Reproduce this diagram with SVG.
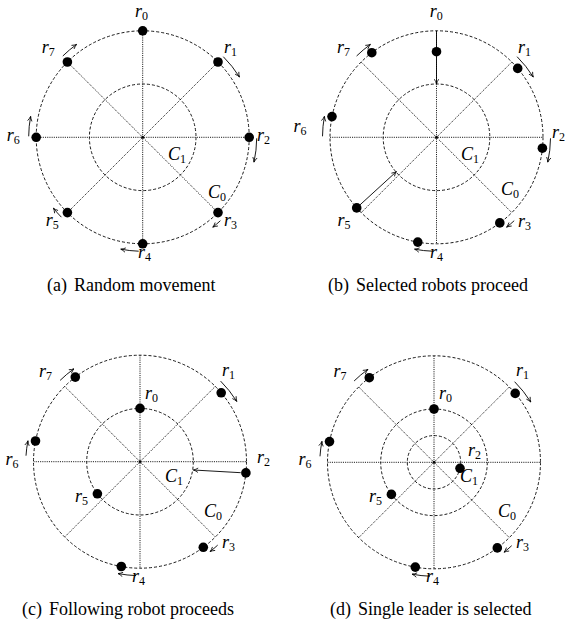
<svg xmlns="http://www.w3.org/2000/svg" width="567" height="637" viewBox="0 0 567 637" font-family="'Liberation Serif','Times New Roman',serif">
<defs>
<style>
.bg{fill:#fff}
.oc{fill:none;stroke:#000;stroke-width:0.9;stroke-dasharray:3 2}
.sp{fill:none;stroke:#000;stroke-width:0.9;stroke-dasharray:1.1 1.1}
.ar{fill:none;stroke:#000;stroke-width:0.9;marker-end:url(#ah)}
.dot{fill:#000}
text{font-family:'Liberation Serif','Times New Roman',serif}
.m{font-style:italic;font-size:18px;fill:#000}
.s{font-style:normal;font-size:12px}
.cap{font-size:18px;fill:#000}
</style>
<marker id="ah" viewBox="0 0 6 6" refX="5.2" refY="3" markerWidth="6" markerHeight="6" orient="auto" markerUnits="userSpaceOnUse">
<path d="M0.6,0.8 Q3,2.4 5.4,3 Q3,3.6 0.6,5.2" fill="none" stroke="#000" stroke-width="0.8"/>
</marker>
<g id="base">
<circle class="oc" r="106.5"/>
<circle class="oc" r="53.3"/>
<path class="sp" d="M0,-106.5V106.5M-106.5,0H106.5M-75.3,-75.3L75.3,75.3M75.3,-75.3L-75.3,75.3"/>
<circle class="dot" r="1.4"/>
</g>
</defs>
<rect class="bg" width="567" height="637"/>

<!-- (a) -->
<g id="panel-a" transform="translate(142.7,137.3)">
<use href="#base"/>
<g id="a-connectors">
<path class="ar" d="M-79.9,-81.3A114,114 0 0 1 -66.2,-92.8"/>
<path class="ar" d="M80.6,-80.6A114,114 0 0 1 96.7,-60.4"/>
<path class="ar" d="M114,1A114,114 0 0 1 111.3,24.7"/>
<path class="ar" d="M77.7,83.4A114,114 0 0 1 70.2,89.8"/>
<path class="ar" d="M-4,113.9A114,114 0 0 1 -21.8,111.9"/>
<path class="ar" d="M-81.3,79.9A114,114 0 0 1 -89.2,71"/>
<path class="ar" d="M-114,-1A114,114 0 0 1 -112.1,-20.8"/>
</g>
<g id="a-r0"><circle class="dot" cx="0" cy="-106.5" r="4.8"/><text class="m" x="-7.7" y="-120.3">r<tspan class="s" dy="3">0</tspan></text></g>
<g id="a-r1"><circle class="dot" cx="75.3" cy="-75.3" r="4.8"/><text class="m" x="81.3" y="-84.3">r<tspan class="s" dy="3">1</tspan></text></g>
<g id="a-r2"><circle class="dot" cx="106.5" cy="0" r="4.8"/><text class="m" x="114.3" y="3.7">r<tspan class="s" dy="3">2</tspan></text></g>
<g id="a-r3"><circle class="dot" cx="75.3" cy="75.3" r="4.8"/><text class="m" x="81.3" y="88.7">r<tspan class="s" dy="3">3</tspan></text></g>
<g id="a-r4"><circle class="dot" cx="0" cy="106.5" r="4.8"/><text class="m" x="-4.7" y="121">r<tspan class="s" dy="3">4</tspan></text></g>
<g id="a-r5"><circle class="dot" cx="-75.3" cy="75.3" r="4.8"/><text class="m" x="-97" y="88.7">r<tspan class="s" dy="3">5</tspan></text></g>
<g id="a-r6"><circle class="dot" cx="-106.5" cy="0" r="4.8"/><text class="m" x="-136" y="3.7">r<tspan class="s" dy="3">6</tspan></text></g>
<g id="a-r7"><circle class="dot" cx="-75.3" cy="-75.3" r="4.8"/><text class="m" x="-101" y="-84.3">r<tspan class="s" dy="3">7</tspan></text></g>
<g id="a-C1"><text class="m" x="25.3" y="22.7">C<tspan class="s" dy="3">1</tspan></text></g>
<g id="a-C0"><text class="m" x="65.3" y="60.7">C<tspan class="s" dy="3">0</tspan></text></g>
</g>

<!-- (b) -->
<g id="panel-b" transform="translate(436.5,137.3)">
<use href="#base"/>
<g id="b-connectors">
<path class="ar" d="M-79.9,-81.3A114,114 0 0 1 -66.2,-92.8"/>
<path class="ar" d="M80.6,-80.6A114,114 0 0 1 96.7,-60.4"/>
<path class="ar" d="M114,1A114,114 0 0 1 111.3,24.7"/>
<path class="ar" d="M77.7,83.4A114,114 0 0 1 70.2,89.8"/>
<path class="ar" d="M-4,113.9A114,114 0 0 1 -21.8,111.9"/>
<path class="ar" d="M-114,-1A114,114 0 0 1 -112.1,-20.8"/>
<path class="ar" d="M0,-106.5V-53.5"/>
<path class="ar" d="M-79.8,70.6L-40.2,34.4"/>
</g>
<g id="b-r0"><circle class="dot" cx="0" cy="-85.6" r="4.8"/><text class="m" x="-6.8" y="-120.3">r<tspan class="s" dy="3">0</tspan></text></g>
<g id="b-r1"><circle class="dot" cx="81.2" cy="-68.9" r="4.8"/><text class="m" x="81.5" y="-84.3">r<tspan class="s" dy="3">1</tspan></text></g>
<g id="b-r2"><circle class="dot" cx="105.9" cy="10.9" r="4.8"/><text class="m" x="115.5" y="0.7">r<tspan class="s" dy="3">2</tspan></text></g>
<g id="b-r3"><circle class="dot" cx="63.3" cy="85.6" r="4.8"/><text class="m" x="81.5" y="89.7">r<tspan class="s" dy="3">3</tspan></text></g>
<g id="b-r4"><circle class="dot" cx="-18.7" cy="104.8" r="4.8"/><text class="m" x="-6.5" y="121">r<tspan class="s" dy="3">4</tspan></text></g>
<g id="b-r5"><circle class="dot" cx="-79.8" cy="70.6" r="4.8"/><text class="m" x="-99" y="88.7">r<tspan class="s" dy="3">5</tspan></text></g>
<g id="b-r6"><circle class="dot" cx="-104.5" cy="-20.7" r="4.8"/><text class="m" x="-143" y="-5.3">r<tspan class="s" dy="3">6</tspan></text></g>
<g id="b-r7"><circle class="dot" cx="-64.7" cy="-84.6" r="4.8"/><text class="m" x="-99.5" y="-84.3">r<tspan class="s" dy="3">7</tspan></text></g>
<g id="b-C1"><text class="m" x="24.5" y="22.7">C<tspan class="s" dy="3">1</tspan></text></g>
<g id="b-C0"><text class="m" x="64.5" y="57.7">C<tspan class="s" dy="3">0</tspan></text></g>
</g>

<!-- (c) -->
<g id="panel-c" transform="translate(140,461.7)">
<use href="#base"/>
<g id="c-connectors">
<path class="ar" d="M-79.9,-81.3A114,114 0 0 1 -66.2,-92.8"/>
<path class="ar" d="M80.6,-80.6A114,114 0 0 1 96.7,-60.4"/>
<path class="ar" d="M77.7,83.4A114,114 0 0 1 70.2,89.8"/>
<path class="ar" d="M-4,113.9A114,114 0 0 1 -21.8,111.9"/>
<path class="ar" d="M-114,-6A114,114 0 0 1 -112.1,-20.8"/>
<path class="ar" d="M100.7,11L53.5,8.3"/>
</g>
<g id="c-r0"><circle class="dot" cx="0" cy="-53.3" r="4.8"/><text class="m" x="5" y="-62.7">r<tspan class="s" dy="3">0</tspan></text></g>
<g id="c-r1"><circle class="dot" cx="81.2" cy="-68.9" r="4.8"/><text class="m" x="82" y="-85.7">r<tspan class="s" dy="3">1</tspan></text></g>
<g id="c-r2"><circle class="dot" cx="105.9" cy="11.2" r="4.8"/><text class="m" x="117" y="1.3">r<tspan class="s" dy="3">2</tspan></text></g>
<g id="c-r3"><circle class="dot" cx="63.3" cy="85.6" r="4.8"/><text class="m" x="82" y="86.3">r<tspan class="s" dy="3">3</tspan></text></g>
<g id="c-r4"><circle class="dot" cx="-18.7" cy="104.8" r="4.8"/><text class="m" x="-8" y="120.5">r<tspan class="s" dy="3">4</tspan></text></g>
<g id="c-r5"><circle class="dot" cx="-42.6" cy="32.1" r="4.8"/><text class="m" x="-65" y="40.3">r<tspan class="s" dy="3">5</tspan></text></g>
<g id="c-r6"><circle class="dot" cx="-104.5" cy="-20.7" r="4.8"/><text class="m" x="-134.5" y="3.3">r<tspan class="s" dy="3">6</tspan></text></g>
<g id="c-r7"><circle class="dot" cx="-64.7" cy="-84.6" r="4.8"/><text class="m" x="-101" y="-84.7">r<tspan class="s" dy="3">7</tspan></text></g>
<g id="c-C1"><text class="m" x="25" y="20.3">C<tspan class="s" dy="3">1</tspan></text></g>
<g id="c-C0"><text class="m" x="64" y="55.3">C<tspan class="s" dy="3">0</tspan></text></g>
</g>

<!-- (d) -->
<g id="panel-d" transform="translate(434,462.3)">
<use href="#base"/>
<circle class="oc" r="26.7"/>
<g id="d-connectors">
<path class="ar" d="M-79.9,-81.3A114,114 0 0 1 -66.2,-92.8"/>
<path class="ar" d="M80.6,-80.6A114,114 0 0 1 96.7,-60.4"/>
<path class="ar" d="M77.7,83.4A114,114 0 0 1 70.2,89.8"/>
<path class="ar" d="M-4,113.9A114,114 0 0 1 -21.8,111.9"/>
<path class="ar" d="M-114,-6A114,114 0 0 1 -112.1,-20.8"/>
</g>
<g id="d-r0"><circle class="dot" cx="0" cy="-53.3" r="4.8"/><text class="m" x="5" y="-63.3">r<tspan class="s" dy="3">0</tspan></text></g>
<g id="d-r1"><circle class="dot" cx="81.2" cy="-68.9" r="4.8"/><text class="m" x="82" y="-86.3">r<tspan class="s" dy="3">1</tspan></text></g>
<g id="d-r2"><circle class="dot" cx="26" cy="6" r="4.8"/><text class="m" x="34" y="-6.3">r<tspan class="s" dy="3">2</tspan></text></g>
<g id="d-r3"><circle class="dot" cx="63.3" cy="85.6" r="4.8"/><text class="m" x="82" y="85.7">r<tspan class="s" dy="3">3</tspan></text></g>
<g id="d-r4"><circle class="dot" cx="-18.7" cy="104.8" r="4.8"/><text class="m" x="-8" y="120">r<tspan class="s" dy="3">4</tspan></text></g>
<g id="d-r5"><circle class="dot" cx="-42.6" cy="32.1" r="4.8"/><text class="m" x="-65" y="39.7">r<tspan class="s" dy="3">5</tspan></text></g>
<g id="d-r6"><circle class="dot" cx="-104.5" cy="-20.7" r="4.8"/><text class="m" x="-135.5" y="2.7">r<tspan class="s" dy="3">6</tspan></text></g>
<g id="d-r7"><circle class="dot" cx="-64.7" cy="-84.6" r="4.8"/><text class="m" x="-100.5" y="-85.3">r<tspan class="s" dy="3">7</tspan></text></g>
<g id="d-C1"><text class="m" x="26" y="19.7">C<tspan class="s" dy="3">1</tspan></text></g>
<g id="d-C0"><text class="m" x="64" y="54.7">C<tspan class="s" dy="3">0</tspan></text></g>
</g>

<g id="captions">
<text class="cap" x="47" y="291">(a)<tspan dx="7">Random movement</tspan></text>
<text class="cap" x="328" y="291">(b)<tspan dx="7">Selected robots proceed</tspan></text>
<text class="cap" x="22" y="615">(c)<tspan dx="7">Following robot proceeds</tspan></text>
<text class="cap" x="330" y="615">(d)<tspan dx="7">Single leader is selected</tspan></text>
</g>
</svg>
